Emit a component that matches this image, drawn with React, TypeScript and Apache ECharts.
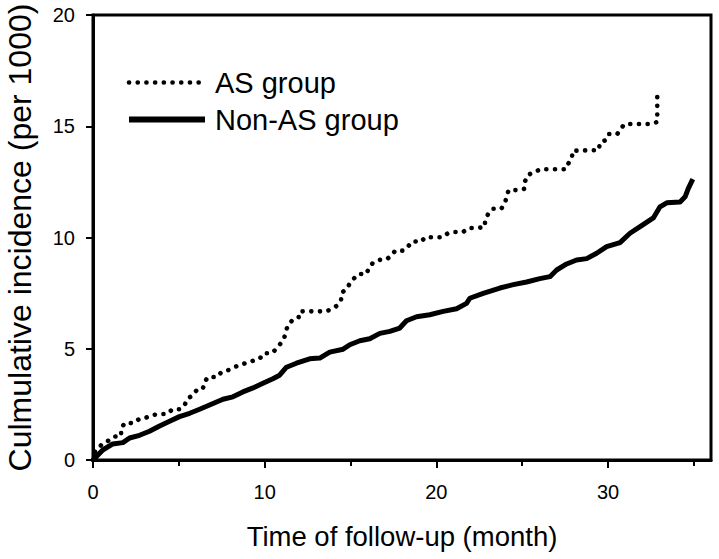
import React, { useEffect, useRef } from "react";
import * as echarts from "echarts";

const xTickLabels = [0, 10, 20, 30];
const xMinorTicks = [5, 15, 25, 35];
const seriesNames = ["AS group", "Non-AS group"];

// AS group: [month, cumulative incidence per 1000]
const asGroup: [number, number][] = [
  [0, 0], [0.03, 0.3], [0.54, 0.72], [0.9, 0.87], [1.2, 1.05], [1.64, 1.08], [1.64, 1.44],
  [1.88, 1.68], [2.36, 1.65], [2.67, 1.83], [3.06, 1.89], [3.41, 2.01], [3.86, 2.07],
  [4.34, 2.07], [4.62, 2.28], [5.08, 2.28], [5.35, 2.49], [5.51, 2.76], [5.82, 2.91],
  [6.05, 3.15], [6.4, 3.2], [6.5, 3.52], [6.72, 3.74], [7.22, 3.72], [7.49, 3.96],
  [7.88, 4.04], [8.23, 4.17], [8.58, 4.28], [8.97, 4.37], [9.32, 4.46], [9.71, 4.55],
  [9.94, 4.8], [10.43, 4.8], [10.68, 5.0], [10.9, 5.21], [11.13, 5.45], [11.22, 5.75],
  [11.36, 6.07], [11.59, 6.26], [11.97, 6.38], [12.04, 6.68], [13.56, 6.68], [13.95, 6.8],
  [14.24, 6.95], [14.45, 7.19], [14.49, 7.52], [14.8, 7.7], [14.96, 7.94], [15.19, 8.15],
  [15.46, 8.36], [15.93, 8.36], [16.08, 8.66], [16.32, 8.87], [16.66, 8.99], [17.1, 9.02],
  [17.41, 9.2], [17.6, 9.41], [18.1, 9.41], [18.38, 9.62], [18.61, 9.83], [19.11, 9.8],
  [19.35, 10.01], [20.36, 10.01], [20.67, 10.19], [21.1, 10.25], [21.56, 10.25],
  [21.88, 10.43], [22.34, 10.43], [22.81, 10.46], [22.85, 10.79], [23.04, 11.09],
  [23.28, 11.29], [23.78, 11.29], [23.98, 11.51], [24.09, 11.81], [24.21, 12.13],
  [24.71, 12.13], [25.14, 12.19], [25.18, 12.55], [25.34, 12.82], [25.76, 12.94],
  [26.04, 13.07], [27.55, 13.07], [27.67, 13.3], [27.9, 13.57], [27.94, 13.9],
  [29.46, 13.93], [29.53, 14.26], [29.88, 14.38], [30.04, 14.65], [30.54, 14.65],
  [30.74, 14.89], [30.97, 15.1], [32.45, 15.1], [32.87, 15.19], [32.87, 16.33]
];

// Non-AS group
const nonAsGroup: [number, number][] = [
  [0, 0], [0.19, 0.15], [0.57, 0.45], [1.15, 0.72], [1.74, 0.78], [2.13, 0.99], [2.71, 1.11],
  [3.29, 1.29], [3.88, 1.53], [4.46, 1.74], [5.04, 1.95], [5.63, 2.1], [6.21, 2.28],
  [6.79, 2.47], [7.57, 2.73], [8.15, 2.84], [8.73, 3.06], [9.32, 3.24], [9.9, 3.45],
  [10.48, 3.65], [10.87, 3.81], [11.27, 4.17], [11.85, 4.35], [12.62, 4.55], [13.21, 4.58],
  [13.79, 4.85], [14.57, 4.98], [14.96, 5.18], [15.54, 5.36], [16.12, 5.45], [16.71, 5.69],
  [17.29, 5.78], [17.87, 5.93], [18.26, 6.26], [18.85, 6.44], [19.62, 6.53], [20.4, 6.68],
  [21.18, 6.8], [21.76, 7.04], [21.95, 7.27], [22.73, 7.49], [23.7, 7.73], [24.48, 7.88],
  [25.26, 8.0], [26.03, 8.15], [26.62, 8.24], [27.01, 8.54], [27.59, 8.81], [28.17, 8.99],
  [28.76, 9.05], [29.34, 9.29], [29.92, 9.59], [30.7, 9.77], [31.28, 10.19], [31.87, 10.49],
  [32.64, 10.88], [33.03, 11.38], [33.42, 11.56], [34.2, 11.6], [34.49, 11.83],
  [34.68, 12.21], [34.94, 12.62]
];

const FONT = "'Liberation Sans', Arial, Helvetica, sans-serif";
const dotted = { color: "#000", width: 4.6, type: [0.1, 8.6], cap: "round", join: "round" };
const solid = { color: "#000", width: 5, type: "solid", join: "round" };

export default function App() {
  const ref = useRef<HTMLDivElement>(null);
  useEffect(() => {
    document.body.style.margin = "0";
    const chart = echarts.init(ref.current!, null, { renderer: "svg" });
    chart.setOption({
      animation: false,
      backgroundColor: "#ffffff",
      textStyle: { fontFamily: FONT, color: "#000" },
      grid: {
        left: 93,
        right: 8,
        top: 15,
        bottom: 99,
        show: true,
        borderColor: "#000",
        borderWidth: 3,
        containLabel: false,
        outerBoundsMode: "none"
      },
      legend: {
        data: [
          { name: seriesNames[0], lineStyle: { ...dotted }, itemStyle: { color: "transparent", borderWidth: 0, opacity: 0 } },
          { name: seriesNames[1], lineStyle: { ...solid, width: 6 }, itemStyle: { color: "transparent", borderWidth: 0, opacity: 0 } }
        ],
        orient: "vertical",
        left: 121,
        top: 63,
        itemWidth: 76,
        itemHeight: 14,
        itemGap: 8,
        textStyle: { fontSize: 29, fontFamily: FONT, color: "#000", padding: [0, 0, 0, 5] }
      },
      xAxis: [
        {
          type: "value",
          min: 0,
          max: 36,
          interval: 10,
          name: "Time of follow-up (month)",
          nameLocation: "middle",
          nameGap: 62,
          nameTextStyle: { fontSize: 27.5, fontFamily: FONT, color: "#000" },
          axisLine: { show: true, onZero: false, lineStyle: { color: "#000", width: 3 } },
          axisTick: { show: true, inside: false, length: 8, customValues: xTickLabels, lineStyle: { color: "#000", width: 2 } },
          axisLabel: { fontSize: 20, color: "#000", margin: 22, customValues: xTickLabels, fontFamily: FONT },
          splitLine: { show: false }
        },
        {
          type: "value",
          min: 0,
          max: 36,
          position: "bottom",
          axisLine: { show: false },
          axisTick: { show: true, inside: false, length: 6, customValues: xMinorTicks, lineStyle: { color: "#000", width: 2 } },
          axisLabel: { show: false },
          splitLine: { show: false }
        }
      ],
      yAxis: {
        type: "value",
        min: 0,
        max: 20,
        interval: 5,
        name: "Culmulative incidence (per 1000)",
        nameLocation: "middle",
        nameGap: 57,
        nameTextStyle: { fontSize: 32, fontFamily: FONT, color: "#000" },
        axisLine: { show: true, onZero: false, lineStyle: { color: "#000", width: 3 } },
        axisTick: { show: true, inside: false, length: 7, lineStyle: { color: "#000", width: 2 } },
        axisLabel: { fontSize: 20, color: "#000", margin: 18, fontFamily: FONT },
        splitLine: { show: false }
      },
      series: [
        {
          name: seriesNames[0],
          type: "line",
          data: asGroup,
          showSymbol: false,
          symbol: "none",
          lineStyle: dotted,
          itemStyle: { color: "#000" }
        },
        {
          name: seriesNames[1],
          type: "line",
          data: nonAsGroup,
          showSymbol: false,
          symbol: "none",
          lineStyle: solid,
          itemStyle: { color: "#000" }
        }
      ]
    });
    return () => chart.dispose();
  }, []);
  return <div ref={ref} style={{ width: 719, height: 559 }} />;
}
